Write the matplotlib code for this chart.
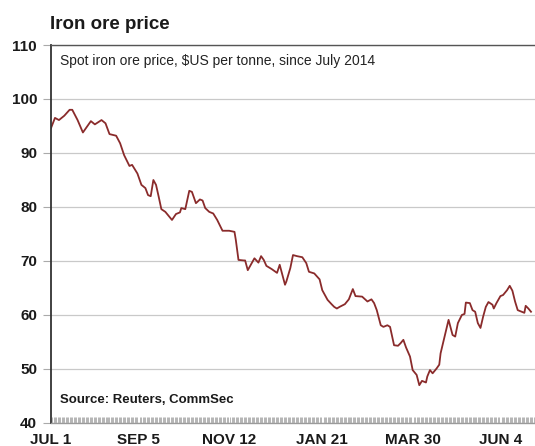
import matplotlib
matplotlib.use("Agg")
import matplotlib.pyplot as plt
import matplotlib.dates as mdates
import pandas as pd

plt.rcParams['font.family'] = ['Liberation Sans', 'DejaVu Sans']

# Spot iron ore price, US$ per tonne
dates = [
    "2014-07-01", "2014-07-04", "2014-07-07", "2014-07-11", "2014-07-15", "2014-07-17",
    "2014-07-21", "2014-07-25", "2014-07-31", "2014-08-03", "2014-08-08", "2014-08-11",
    "2014-08-14", "2014-08-19", "2014-08-22", "2014-08-25", "2014-08-29", "2014-08-31",
    "2014-09-04", "2014-09-07", "2014-09-10", "2014-09-12", "2014-09-14", "2014-09-16",
    "2014-09-18", "2014-09-20", "2014-09-22", "2014-09-25", "2014-09-30", "2014-10-03",
    "2014-10-06", "2014-10-07", "2014-10-10", "2014-10-13", "2014-10-15", "2014-10-18",
    "2014-10-21", "2014-10-23", "2014-10-25", "2014-10-28", "2014-10-31", "2014-11-03",
    "2014-11-07", "2014-11-12", "2014-11-16", "2014-11-17", "2014-11-19", "2014-11-23",
    "2014-11-24", "2014-11-26", "2014-11-29", "2014-12-01", "2014-12-04", "2014-12-06",
    "2014-12-08", "2014-12-10", "2014-12-14", "2014-12-18", "2014-12-20", "2014-12-24",
    "2014-12-25", "2014-12-28", "2014-12-30", "2015-01-02", "2015-01-06", "2015-01-09",
    "2015-01-11", "2015-01-15", "2015-01-19", "2015-01-21", "2015-01-25", "2015-01-28",
    "2015-01-30", "2015-02-01", "2015-02-03", "2015-02-07", "2015-02-10", "2015-02-13",
    "2015-02-15", "2015-02-20", "2015-02-24", "2015-02-27", "2015-03-01", "2015-03-03",
    "2015-03-06", "2015-03-08", "2015-03-11", "2015-03-13", "2015-03-16", "2015-03-19",
    "2015-03-21", "2015-03-23", "2015-03-25", "2015-03-28", "2015-03-30", "2015-04-02",
    "2015-04-04", "2015-04-06", "2015-04-09", "2015-04-10", "2015-04-12", "2015-04-14",
    "2015-04-17", "2015-04-19", "2015-04-20", "2015-04-23", "2015-04-26", "2015-04-29",
    "2015-05-01", "2015-05-03", "2015-05-06", "2015-05-08", "2015-05-09", "2015-05-12",
    "2015-05-14", "2015-05-16", "2015-05-18", "2015-05-20", "2015-05-22", "2015-05-24",
    "2015-05-26", "2015-05-29", "2015-05-30", "2015-06-01", "2015-06-04", "2015-06-06",
    "2015-06-09", "2015-06-11", "2015-06-13", "2015-06-15", "2015-06-17", "2015-06-20",
    "2015-06-22", "2015-06-23", "2015-06-25", "2015-06-27",
]
prices = [
    94.6, 96.5, 96.1, 96.9, 98.0, 98.0,
    96.1, 93.8, 95.9, 95.3, 96.1, 95.5,
    93.5, 93.2, 91.8, 89.6, 87.6, 87.8,
    86.2, 84.1, 83.5, 82.2, 82.0, 85.0,
    84.1, 81.9, 79.6, 79.1, 77.6, 78.7,
    79.0, 79.8, 79.6, 83.0, 82.8, 80.7,
    81.4, 81.2, 79.8, 79.1, 78.8, 77.6,
    75.6, 75.6, 75.4, 73.9, 70.2, 70.1,
    70.1, 68.3, 69.6, 70.5, 69.7, 70.9,
    70.2, 69.1, 68.5, 67.8, 69.3, 65.6,
    66.2, 68.7, 71.1, 70.9, 70.7, 69.6,
    68.0, 67.7, 66.6, 64.6, 62.8, 62.0,
    61.5, 61.2, 61.5, 62.0, 62.9, 64.8,
    63.5, 63.4, 62.5, 62.9, 62.2, 60.9,
    58.1, 57.8, 58.1, 57.8, 54.4, 54.3,
    54.8, 55.4, 54.0, 52.3, 49.8, 48.9,
    47.0, 47.8, 47.5, 48.6, 49.8, 49.2,
    50.1, 50.8, 52.9, 56.0, 59.1, 56.3,
    56.0, 58.5, 60.0, 60.2, 62.3, 62.2,
    60.9, 60.6, 58.5, 57.6, 59.7, 61.5,
    62.4, 61.9, 61.2, 62.2, 63.5, 63.7,
    64.6, 65.4, 64.5, 62.5, 60.9, 60.6,
    60.4, 61.7, 61.2, 60.6,
]

tick_dates = ["2014-07-01", "2014-09-05", "2014-11-12", "2015-01-21", "2015-03-30", "2015-06-04"]
tick_labels = ["JUL 1", "SEP 5", "NOV 12", "JAN 21", "MAR 30", "JUN 4"]
y_ticks = [40, 50, 60, 70, 80, 90, 100, 110]

x = pd.to_datetime(dates)

fig = plt.figure(figsize=(5.35, 4.46), dpi=100)
ax = fig.add_axes([0.0953, 0.0516, 0.9047, 0.8475])

ax.plot(x, prices, color="#8a2b2b", linewidth=1.3, solid_joinstyle="round")

ax.set_xlim(pd.Timestamp("2014-07-01"), pd.Timestamp("2015-06-30"))
ax.set_ylim(40, 110)
ax.set_yticks(y_ticks)
ax.set_yticklabels([str(v) for v in y_ticks])
ax.set_xticks(pd.to_datetime(tick_dates))
ax.set_xticklabels(tick_labels)
ax.xaxis.set_minor_locator(mdates.DayLocator())

ax.grid(axis="y", color="#c9c9c9", linewidth=0.9)
ax.set_axisbelow(True)

for side in ("right",):
    ax.spines[side].set_visible(False)
ax.spines["left"].set_color("#333333")
ax.spines["left"].set_linewidth(1.3)
ax.spines["top"].set_color("#555555")
ax.spines["top"].set_linewidth(1.0)
ax.spines["bottom"].set_color("#9a9a9a")
ax.spines["bottom"].set_linewidth(1.0)

ax.tick_params(axis="y", direction="out", length=6, width=0.8, color="#aaaaaa",
               pad=4, labelsize=11, labelcolor="#1a1a1a")
ax.tick_params(axis="x", which="major", length=0, pad=7, labelsize=11, labelcolor="#1a1a1a")
ax.tick_params(axis="x", which="minor", direction="in", length=4, width=0.6, color="#a8a8a8")
for lab in ax.get_yticklabels() + ax.get_xticklabels():
    lab.set_fontweight("bold")

fig.text(0.0935, 0.945, "Iron ore price", fontsize=13.5, fontweight="bold",
         color="#1a1a1a", va="center", ha="left")
ax.text(0.018, 0.957, "Spot iron ore price, $US per tonne, since July 2014",
        transform=ax.transAxes, fontsize=10, color="#222222", va="center", ha="left")
ax.text(0.018, 0.06, "Source: Reuters, CommSec", transform=ax.transAxes,
        fontsize=9.5, fontweight="bold", color="#1a1a1a", va="center", ha="left")

fig.savefig("out.png", dpi=100)
